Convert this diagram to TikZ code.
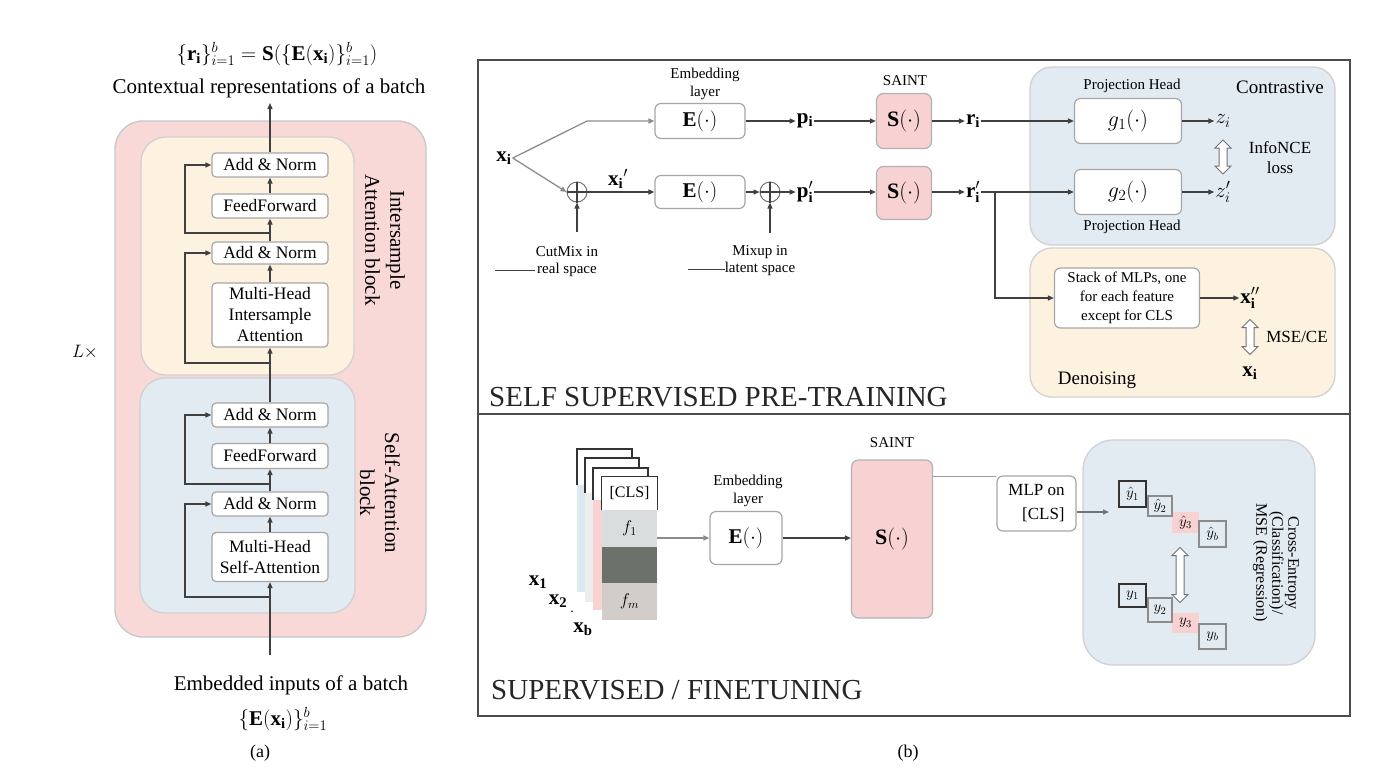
\RequirePackage{fix-cm}
\documentclass[tikz,border=0pt]{standalone}
\usepackage{fontspec}
\setmainfont{Liberation Serif}
\usetikzlibrary{arrows.meta,shapes.arrows,calc}
\newcommand{\fsz}[2]{\fontsize{#1}{#2}\selectfont}
\definecolor{pinkbg}{HTML}{F9D8D8}
\definecolor{creambg}{HTML}{FDF2E0}
\definecolor{bluebg}{HTML}{E2EAF2}
\definecolor{spink}{HTML}{F8D2D2}
\definecolor{sheetblue}{HTML}{DCE8F2}
\definecolor{sheetpale}{HTML}{EDEDED}
\definecolor{darkcell}{HTML}{6C716A}
\definecolor{f1cell}{HTML}{D9DDDD}
\definecolor{fmcell}{HTML}{D3CDC9}
\tikzset{
  ln/.style={draw=black!75, line width=1.3pt},
  arr/.style={ln, -{Triangle[length=6pt,width=5pt]}},
  garr/.style={draw=black!45, line width=1.3pt, -{Triangle[length=6pt,width=5pt]}},
  lbox/.style={draw=black!35, line width=1.2pt, fill=white, rounded corners=4pt, inner sep=0pt, align=center, font=\fsz{17.5}{21}},
  rbox/.style={draw=black!35, line width=1.2pt, fill=white, rounded corners=6pt, inner sep=0pt, align=center, font=\fsz{21}{24}},
  sbox/.style={draw=black!30, line width=1.2pt, fill=spink, rounded corners=7pt, inner sep=0pt, font=\fsz{22}{24}},
  big/.style={font=\fsz{21}{25}, inner sep=0pt, align=center},
  small/.style={font=\fsz{15}{18}, inner sep=0pt, align=center},
  mid/.style={font=\fsz{17}{20}, inner sep=0pt, align=center},
  mathl/.style={font=\fsz{21}{24}, inner sep=1pt},
  hdarrow/.style={double arrow, draw=black!55, fill=white, line width=1pt, inner sep=3.5pt, double arrow head extend=4pt, minimum width=15pt, shape border rotate=90},
  bgbox/.style={draw=black!18, line width=1.3pt, rounded corners=#1},
  cell/.style={inner sep=0pt, minimum width=55pt, font=\fsz{17}{18}},
  ysq/.style={inner sep=0pt, font=\fsz{15}{15}}
}
\begin{document}
\begin{tikzpicture}[x=1pt,y=-1pt]
\useasboundingbox (0,0) rectangle (1400,780);
\fill[white] (0,0) rectangle (1400,780);

%%%%%%%%%%%%%%%% (a) %%%%%%%%%%%%%%%%
\path[bgbox=28pt, fill=pinkbg, draw=black!22] (115,121) rectangle (426,637);
\path[bgbox=25pt, fill=creambg] (141,137) rectangle (354,375);
\path[bgbox=25pt, fill=bluebg] (140,378) rectangle (355,613);

\node[lbox, minimum width=116pt, minimum height=24pt] (an4) at (270,165) {Add \& Norm};
\node[lbox, minimum width=116pt, minimum height=24pt] (ff2) at (270,206) {FeedForward};
\node[lbox, minimum width=116pt, minimum height=22pt] (an3) at (270,253) {Add \& Norm};
\node[lbox, minimum width=116pt, minimum height=64pt] (mhia) at (270,315) {Multi-Head\\Intersample\\Attention};
\node[lbox, minimum width=116pt, minimum height=24pt] (an2) at (270,415) {Add \& Norm};
\node[lbox, minimum width=116pt, minimum height=25pt] (ff1) at (270,456) {FeedForward};
\node[lbox, minimum width=116pt, minimum height=24pt] (an1) at (270,504) {Add \& Norm};
\node[lbox, minimum width=116pt, minimum height=49pt] (mhsa) at (270,557) {Multi-Head\\Self-Attention};

\coordinate (inb) at (270,655);
\coordinate (outt) at (270,103);
\draw[arr] (inb) -- (mhsa.south);
\draw[arr] (mhsa) -- (an1);
\draw[arr] (an1) -- (ff1);
\draw[arr] (ff1) -- (an2);
\draw[arr] (an2) -- (mhia);
\draw[arr] (mhia) -- (an3);
\draw[arr] (an3) -- (ff2);
\draw[arr] (ff2) -- (an4);
\draw[arr] (an4) -- (outt);

\coordinate (b1) at (270,597);
\coordinate (b2) at (270,484);
\coordinate (b3) at (270,363);
\coordinate (b4) at (270,233);
\draw[arr] (b1) -- ++(-85,0) |- (an1.west);
\draw[arr] (b2) -- ++(-85,0) |- (an2.west);
\draw[arr] (b3) -- ++(-85,0) |- (an3.west);
\draw[arr] (b4) -- ++(-85,0) |- (an4.west);

\node[big, rotate=-90] (isab) at (385,240) {Intersample\\Attention block};
\node[big, rotate=-90] (sab) at (380,493) {Self-Attention\\block};

\node[big] (fout) at (277,54) {$\{\mathbf{r_i}\}_{i=1}^{b}=\mathbf{S}(\{\mathbf{E}(\mathbf{x_i})\}_{i=1}^{b})$};
\node[big] (ctx) at (269,88) {Contextual representations of a batch};
\node[big] (emb) at (291,685) {Embedded inputs of a batch};
\node[big] (fin) at (283,719) {$\{\mathbf{E}(\mathbf{x_i})\}_{i=1}^{b}$};
\node[font=\fsz{18}{20}] (capa) at (260,753) {(a)};
\node[font=\fsz{18}{20}] (lx) at (85,352) {$L\times$};

%%%%%%%%%%%%%%%% (b) frame %%%%%%%%%%%%%%%%
\draw[black!70, line width=1.5pt] (478,60) rectangle (1350,716);
\draw[black!70, line width=1.3pt] (478,414) -- (1350,414);
\node[font=\fsz{18}{20}] (capb) at (908,753) {(b)};

%%%%%%%%%%%%%%%% self-supervised %%%%%%%%%%%%%%%%
\path[bgbox=22pt, fill=bluebg] (1030,67) rectangle (1335,245);
\path[bgbox=22pt, fill=creambg] (1030,248) rectangle (1335,397);

\node[mathl] (xi) at (504,158) {$\mathbf{x_i}$};
\node[rbox, minimum width=90pt, minimum height=35pt] (e1) at (700,121) {$\mathbf{E}(\cdot)$};
\node[rbox, minimum width=90pt, minimum height=33pt] (e2) at (700,192) {$\mathbf{E}(\cdot)$};
\node[small] (embl) at (705,84) {Embedding\\layer};
\node[circle, draw=black!55, line width=1pt, minimum size=20pt, inner sep=0pt] (c1) at (577,192) {};
\node[circle, draw=black!55, line width=1pt, minimum size=20pt, inner sep=0pt] (c2) at (770,192) {};
\draw[ln] (c1.north) -- (c1.south);
\draw[ln] (c2.north) -- (c2.south);
\node[mathl] (xip) at (618,179) {$\mathbf{x_i}'$};

\draw[garr] (xi.east) -- (587,121) -- (e1.west);
\draw[garr] (xi.east) -- (c1.west);
\draw[arr] (c1.west) -- (e2.west);

\coordinate (cm) at (577,232);
\draw[arr] (cm) -- (c1.south);
\node[small] (cut1) at (567,252) {CutMix in};
\node[small] (cut2) at (567,270) {real space};
\coordinate (cutleg) at (495,270);
\draw[ln, line width=1pt] (cutleg) -- ([xshift=-2pt]cut2.west);

\coordinate (mx) at (770,233);
\draw[arr] (mx) -- (c2.south);
\node[small] (mix1) at (760,252) {Mixup in};
\node[small] (mix2) at (760,269) {latent space};
\coordinate (mixleg) at (688,269);
\draw[ln, line width=1pt] (mixleg) -- (mix2.west);

\node[mathl] (pi) at (805,121) {$\mathbf{p_i}$};
\node[mathl] (pip) at (805,192) {$\mathbf{p}_{\mathbf{i}}'$};
\node[sbox, minimum width=55pt, minimum height=55pt] (s1) at (904,121) {$\mathbf{S}(\cdot)$};
\node[sbox, minimum width=55pt, minimum height=53pt] (s2) at (904,193) {$\mathbf{S}(\cdot)$};
\node[small] (saint1) at (905,81) {SAINT};
\node[mathl] (ri) at (973,121) {$\mathbf{r_i}$};
\node[mathl] (rip) at (973,192) {$\mathbf{r}_{\mathbf{i}}'$};

\draw[arr] (e1) -- (pi);
\draw[arr] (pi) -- (s1);
\draw[arr] (s1) -- (ri);
\draw[arr] (e2) -- (c2.west);
\draw[arr] (c2.west) -- (pip.west);
\draw[arr] (pip) -- (s2.west |- pip);
\draw[arr] (s2.east |- rip) -- (rip);

\node[small] (ph1) at (1132,86) {Projection Head};
\node[small] (ph2) at (1132,227) {Projection Head};
\node[font=\fsz{19}{22}, inner sep=0pt] (contr) at (1280,87) {Contrastive};
\node[rbox, font=\fsz{22}{24}, minimum width=107pt, minimum height=45pt] (g1) at (1128,121) {$g_1(\cdot)$};
\node[rbox, font=\fsz{22}{24}, minimum width=107pt, minimum height=45pt] (g2) at (1128,192) {$g_2(\cdot)$};
\node[mathl] (zi) at (1223,121) {$z_{i}$};
\node[mathl] (zip) at (1223,192) {$z_{i}'$};
\node[hdarrow, minimum height=34pt] (da1) at (1223,157) {};
\node[mid] (info) at (1280,158) {InfoNCE\\loss};

\draw[arr] (ri) -- (g1);
\draw[arr] (rip) -- (g2.west |- rip);
\draw[arr] (g1) -- (zi);
\draw[arr] (g2.east |- zip) -- (zip);

\node[rbox, font=\fsz{15}{19}, minimum width=145pt, minimum height=60pt] (stack) at (1127,298) {Stack of MLPs, one\\for each feature\\except for CLS};
\coordinate (br) at (995,192);
\draw[arr] (br) |- (stack.west);
\node[mathl] (xpp) at (1250,298) {$\mathbf{x}_{\mathbf{i}}''$};
\draw[arr] (stack) -- (xpp);
\node[hdarrow, minimum height=35pt] (da2) at (1250,337) {};
\node[mid] (mse) at (1297,337) {MSE/CE};
\node[mathl] (xi2) at (1250,373) {$\mathbf{x_i}$};
\node[font=\fsz{19}{22}, inner sep=0pt] (deno) at (1097,380) {Denoising};

\node[font=\fsz{29}{32}, inner sep=0pt, anchor=west, text=black!85] (sspt) at (489,397) {SELF SUPERVISED PRE-TRAINING};

%%%%%%%%%%%%%%%% supervised %%%%%%%%%%%%%%%%
% stacked sheets
\fill[white] (577,449) rectangle (632,485);
\fill[sheetblue] (577,485) rectangle (632,592);
\draw[black!80, line width=1.3pt] (577,485) -- (577,449) -- (632,449) -- (632,485);
\fill[white] (585,458) rectangle (639,493);
\fill[sheetpale] (585,493) rectangle (639,602);
\draw[black!80, line width=1.3pt] (585,493) -- (585,458) -- (639,458) -- (639,493);
\fill[white] (593,468) rectangle (648,500);
\fill[spink] (593,500) rectangle (648,610);
\draw[black!80, line width=1.3pt] (593,500) -- (593,468) -- (648,468) -- (648,500);

\node[cell, fill=white, minimum height=33pt, font=\fsz{16}{16}] (cls) at (629.5,493.5) {[CLS]};
\draw[black!80, line width=1.3pt] (cls.south west) -- (cls.north west) -- (cls.north east) -- (cls.south east);
\node[cell, fill=f1cell, minimum height=37pt] (f1) at (629.5,528.5) {$f_1$};
\node[cell, fill=darkcell, minimum height=36pt] (fd) at (629.5,565) {};
\node[cell, fill=fmcell, minimum height=37pt] (fm) at (629.5,601.5) {$f_m$};

\node[mathl] (xb1) at (538,582) {$\mathbf{x_1}$};
\node[mathl] (xb2) at (558,601) {$\mathbf{x_2}$};
\node[font=\fsz{14}{14}, inner sep=0pt] (xdots) at (572,612) {.};
\node[mathl] (xbb) at (583,629) {$\mathbf{x_b}$};

\node[rbox, minimum width=72pt, minimum height=53pt] (e3) at (746,538) {$\mathbf{E}(\cdot)$};
\node[small] (embl2) at (748,491) {Embedding\\layer};
\node[sbox, minimum width=81pt, minimum height=158pt] (s3) at (892,539) {$\mathbf{S}(\cdot)$};
\node[small] (saint2) at (892,443) {SAINT};
\draw[garr] (f1.east |- e3.west) -- (e3.west);
\draw[arr] (e3) -- (s3.west |- e3);

\node[rbox, font=\fsz{17}{24}, align=right, minimum width=79pt, minimum height=55pt] (mlp) at (1036.5,503.5) {MLP on\\{[CLS]}};
\coordinate (sl) at ($(s3.north east)+(0,17)$);
\draw[draw=black!40, line width=1.5pt] (sl) -- (sl -| mlp.west);

\path[bgbox=30pt, fill=bluebg] (1083,440) rectangle (1315,665);

\node[ysq, fill=spink, minimum width=27pt, minimum height=21pt] (yh3) at (1185.5,522.5) {$\hat{y}_3$};
\node[ysq, draw=black!45, line width=2pt, fill=bluebg, minimum width=24pt, minimum height=20pt] (yh2) at (1160,506) {$\hat{y}_2$};
\node[ysq, draw=black!80, line width=2pt, fill=bluebg, minimum width=27pt, minimum height=26pt] (yh1) at (1132.5,494) {$\hat{y}_1$};
\node[ysq, draw=black!45, line width=2pt, fill=bluebg, minimum width=27pt, minimum height=26pt] (yhb) at (1212.5,534) {$\hat{y}_b$};

\node[ysq, fill=spink, minimum width=27pt, minimum height=20pt] (y3) at (1185.5,623) {$y_3$};
\node[ysq, draw=black!45, line width=2pt, fill=bluebg, minimum width=24pt, minimum height=24pt] (y2) at (1160,610) {$y_2$};
\node[ysq, draw=black!80, line width=2pt, fill=bluebg, minimum width=27pt, minimum height=23pt] (y1) at (1132.5,595.5) {$y_1$};
\node[ysq, draw=black!45, line width=2pt, fill=bluebg, minimum width=27pt, minimum height=25pt] (yb) at (1212.5,636.5) {$y_b$};

\node[hdarrow, minimum height=55pt] (da3) at (1180,575) {};
\node[font=\fsz{16}{16}, inner sep=0pt, align=center, rotate=-90] (ce) at (1276,563) {Cross-Entropy\\(Classification)/\\MSE (Regression)};

\coordinate (yin) at (1109,512);
\draw[arr, draw=black!55] (mlp.east |- yin) -- (yin);

\node[font=\fsz{29}{32}, inner sep=0pt, anchor=west, text=black!85] (sft) at (491,690) {SUPERVISED / FINETUNING};
\end{tikzpicture}
\end{document}
